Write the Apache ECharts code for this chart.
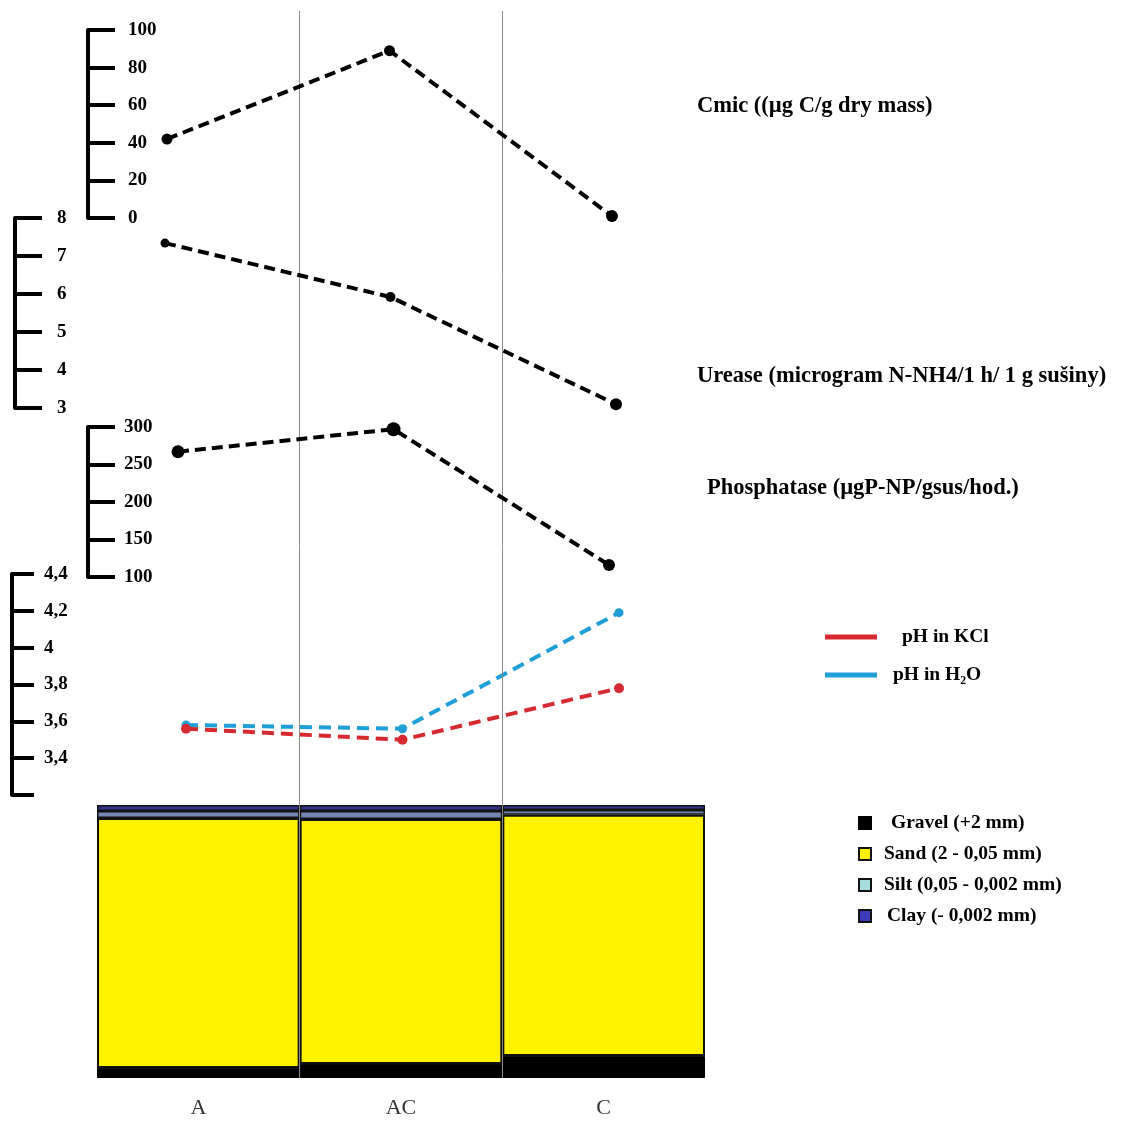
<!DOCTYPE html>
<html><head><meta charset="utf-8">
<script src="https://cdn.jsdelivr.net/npm/echarts@6/dist/echarts.min.js"></script>
<style>html,body{margin:0;padding:0;background:#fff}#c{width:1125px;height:1122px}</style>
</head><body><div id="c"></div>
<script>
const categories = ['A', 'AC', 'C'];
const cmic = [42, 89, 1];
const urease = [7.34, 5.92, 3.1];
const phosphatase = [267, 297, 116];
const phKCl = [3.56, 3.50, 3.78];
const phH2O = [3.58, 3.56, 4.19];
const gravel = [3.7, 5.1, 8.1];
const sand = [91.5, 89.8, 88.3];
const silt = [2.6, 2.9, 1.8];
const clay = [2.2, 2.2, 1.8];
const cmicRange = [0, 100, 20];
const ureaseRange = [3, 8, 1];
const phosRange = [100, 300, 50];
const phRange = [3.2, 4.4, 0.2];
const lineNames = ['Cmic ((µg C/g dry mass)', 'Urease (microgram N-NH4/1 h/ 1 g sušiny)', 'Phosphatase (µgP-NP/gsus/hod.)'];
const phNames = ['pH in KCl', 'pH in H₂O'];
const soilNames = ['Gravel (+2 mm)', 'Sand (2 - 0,05 mm)', 'Silt (0,05 - 0,002 mm)', 'Clay (- 0,002 mm)'];

const FONT = "'Liberation Serif','Times New Roman',serif";
const chart = echarts.init(document.getElementById('c'));

function yAx(gi, range, offset, tickLen, margin, fmt) {
  return {
    type: 'value', gridIndex: gi, min: range[0], max: range[1], interval: range[2],
    offset: offset,
    axisLine: { show: true, lineStyle: { color: '#000', width: 4 } },
    axisTick: { show: true, inside: true, length: tickLen, lineStyle: { color: '#000', width: 4 } },
    splitLine: { show: false },
    axisLabel: { inside: true, margin: margin, color: '#000', fontFamily: FONT, fontWeight: 'bold', fontSize: 19,
      formatter: fmt || (v => String(v)) }
  };
}
function xAx(gi) {
  return { type: 'category', gridIndex: gi, data: categories, boundaryGap: false, show: false };
}
function blackLine(gi, name, data, sizes) {
  return {
    type: 'line', name: name, xAxisIndex: gi, yAxisIndex: gi,
    data: data.map((v, i) => ({ value: v, symbolSize: sizes[i] })),
    symbol: 'circle', showSymbol: true,
    lineStyle: { color: '#000', width: 4, type: [11, 6] },
    itemStyle: { color: '#000' }, z: 5
  };
}
const titleStyle = { fontFamily: FONT, fontWeight: 'bold', fontSize: 22.5, color: '#000' };
const legendText = { fontFamily: FONT, fontWeight: 'bold', fontSize: 19.5, color: '#000' };
const barCols = { silt: '#7486b2', clay: '#34348a' };

chart.setOption({
  animation: false,
  backgroundColor: '#fff',
  title: [
    { text: lineNames[0], left: 697, top: 95, padding: 0, textStyle: titleStyle },
    { text: lineNames[1], left: 697, top: 365, padding: 0, textStyle: titleStyle },
    { text: lineNames[2], left: 707, top: 477, padding: 0, textStyle: titleStyle }
  ],
  legend: [
    { data: [
        { name: phNames[0], textStyle: Object.assign({}, legendText, { padding: [0, 0, 0, 20] }) },
        { name: phNames[1], textStyle: Object.assign({}, legendText, { padding: [0, 0, 0, 11] }) }
      ],
      orient: 'vertical', left: 820, top: 622, itemWidth: 52, itemHeight: 5, itemGap: 18, icon: 'rect',
      textStyle: legendText },
    { data: [
        { name: soilNames[0], textStyle: Object.assign({}, legendText, { padding: [0, 0, 0, 15] }) },
        { name: soilNames[1], textStyle: Object.assign({}, legendText, { padding: [0, 0, 0, 8] }) },
        { name: soilNames[2], textStyle: Object.assign({}, legendText, { padding: [0, 0, 0, 8] }) },
        { name: soilNames[3], textStyle: Object.assign({}, legendText, { padding: [0, 0, 0, 11] }) }
      ],
      orient: 'vertical', left: 853, top: 808, itemWidth: 12, itemHeight: 12, itemGap: 11, icon: 'rect',
      textStyle: legendText }
  ],
  grid: [
    { left: 167, right: 513, top: 30, bottom: 904 },
    { left: 165, right: 509, top: 218, bottom: 714 },
    { left: 178, right: 516, top: 427, bottom: 545 },
    { left: 186, right: 506, top: 574, bottom: 327 },
    { left: 97, right: 420, top: 805, bottom: 44 },
    { left: 97, right: 420, top: 11, bottom: 44 }
  ],
  xAxis: [
    xAx(0), xAx(1), xAx(2), xAx(3),
    { type: 'category', gridIndex: 4, data: categories, axisLine: { show: false }, axisTick: { show: false },
      axisLabel: { color: '#333', fontFamily: FONT, fontSize: 22, margin: 19 } },
    { type: 'value', gridIndex: 5, min: 0, max: 3, show: false }
  ],
  yAxis: [
    yAx(0, cmicRange, 79, 27, 40),
    yAx(1, ureaseRange, 150, 27, 42),
    yAx(2, phosRange, 90, 27, 36),
    yAx(3, phRange, 174, 22, 32, v => { const r = Math.round(v * 10) / 10; return r < 3.3 ? '' : String(r).replace('.', ','); }),
    { type: 'value', gridIndex: 4, min: 0, max: 100, show: false },
    { type: 'value', gridIndex: 5, min: 0, max: 1, show: false }
  ],
  series: [
    blackLine(0, lineNames[0], cmic, [11, 11, 12]),
    blackLine(1, lineNames[1], urease, [9, 10, 12]),
    blackLine(2, lineNames[2], phosphatase, [13, 14, 12]),
    { type: 'line', name: phNames[0], xAxisIndex: 3, yAxisIndex: 3, data: phKCl, symbol: 'circle', symbolSize: 10,
      lineStyle: { color: '#d62a30', width: 4, type: [12, 7] }, itemStyle: { color: '#d62a30' }, z: 5 },
    { type: 'line', name: phNames[1], xAxisIndex: 3, yAxisIndex: 3, data: phH2O, symbol: 'circle', symbolSize: 9,
      lineStyle: { color: '#1e9fd8', width: 4, type: [12, 7] }, itemStyle: { color: '#1e9fd8' }, z: 4 },
    { type: 'bar', name: soilNames[0], xAxisIndex: 4, yAxisIndex: 4, stack: 's', barCategoryGap: 0, data: gravel,
      itemStyle: { color: '#000', borderColor: '#000', borderWidth: 1 } },
    { type: 'bar', name: soilNames[1], xAxisIndex: 4, yAxisIndex: 4, stack: 's', data: sand,
      itemStyle: { color: '#fff200', borderColor: '#111', borderWidth: 2 } },
    { type: 'bar', name: soilNames[2], xAxisIndex: 4, yAxisIndex: 4, stack: 's',
      data: silt.map(v => ({ value: v, itemStyle: { color: barCols.silt } })),
      itemStyle: { color: '#a6dde0', borderColor: '#111', borderWidth: 1.5 } },
    { type: 'bar', name: soilNames[3], xAxisIndex: 4, yAxisIndex: 4, stack: 's',
      data: clay.map(v => ({ value: v, itemStyle: { color: barCols.clay } })),
      itemStyle: { color: '#3b3bb8', borderColor: '#111', borderWidth: 1.5 } },
    { type: 'line', xAxisIndex: 5, yAxisIndex: 5, data: [], silent: true, z: 1,
      markLine: { silent: true, symbol: 'none', label: { show: false },
        lineStyle: { color: '#8a8a8a', width: 1, type: 'solid' },
        data: [{ xAxis: 1 }, { xAxis: 2 }] } }
  ]
});
</script></body></html>
